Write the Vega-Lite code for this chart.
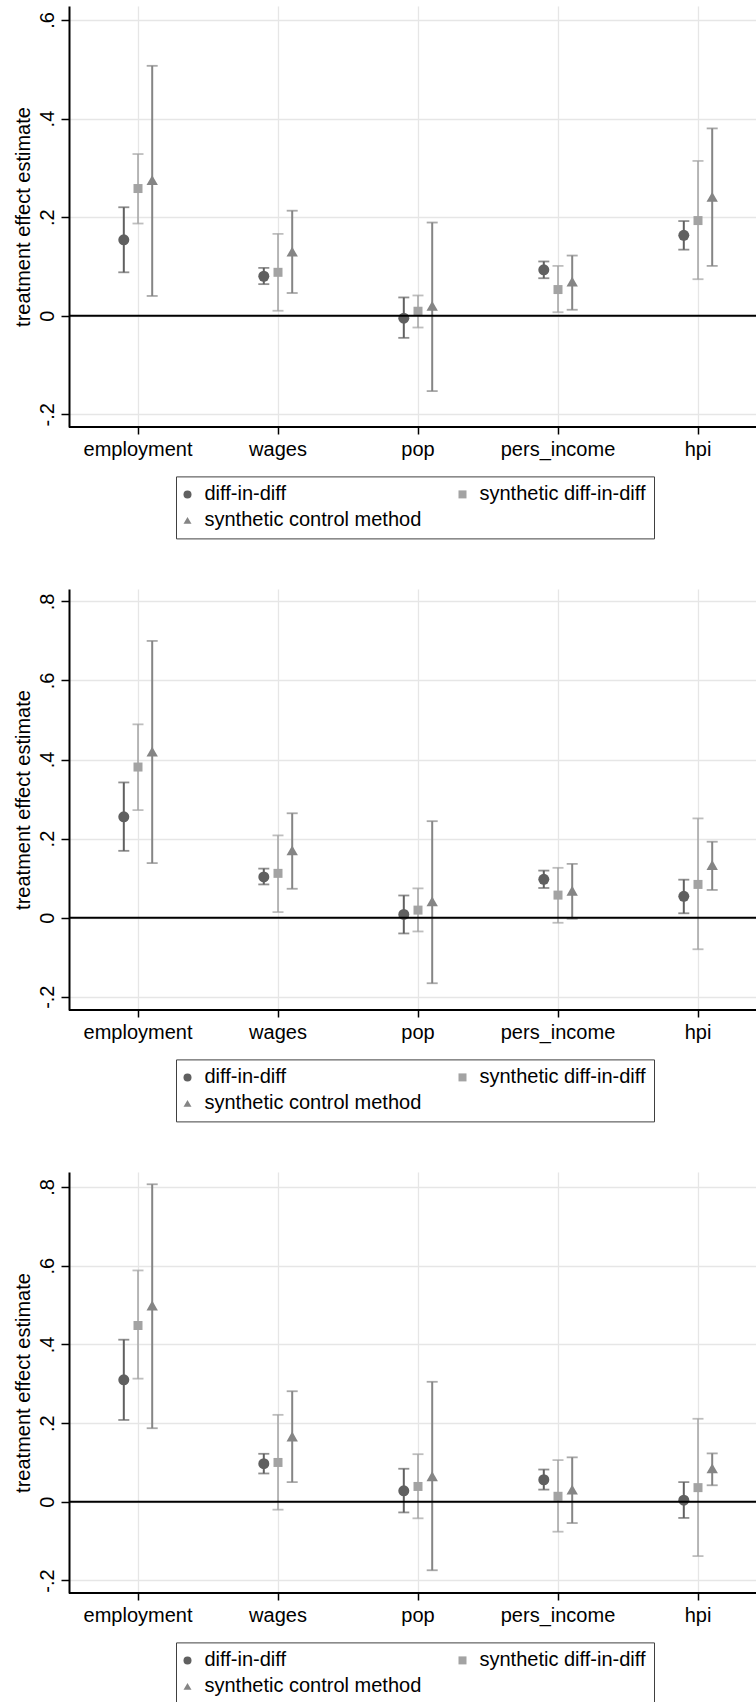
{
  "$schema": "https://vega.github.io/schema/vega-lite/v6.json",
  "padding": {"left": 12, "top": 6, "right": 0, "bottom": 0},
  "spacing": 50,
  "datasets": {
    "p1": [
      {"v": "employment", "m": "diff-in-diff", "est": 0.154, "lo": 0.088, "hi": 0.220},
      {"v": "employment", "m": "synthetic diff-in-diff", "est": 0.258, "lo": 0.187, "hi": 0.328},
      {"v": "employment", "m": "synthetic control method", "est": 0.275, "lo": 0.040, "hi": 0.507},
      {"v": "wages", "m": "diff-in-diff", "est": 0.080, "lo": 0.064, "hi": 0.097},
      {"v": "wages", "m": "synthetic diff-in-diff", "est": 0.088, "lo": 0.010, "hi": 0.166},
      {"v": "wages", "m": "synthetic control method", "est": 0.130, "lo": 0.046, "hi": 0.213},
      {"v": "pop", "m": "diff-in-diff", "est": -0.005, "lo": -0.045, "hi": 0.037},
      {"v": "pop", "m": "synthetic diff-in-diff", "est": 0.009, "lo": -0.024, "hi": 0.041},
      {"v": "pop", "m": "synthetic control method", "est": 0.020, "lo": -0.153, "hi": 0.189},
      {"v": "pers_income", "m": "diff-in-diff", "est": 0.093, "lo": 0.076, "hi": 0.110},
      {"v": "pers_income", "m": "synthetic diff-in-diff", "est": 0.053, "lo": 0.007, "hi": 0.101},
      {"v": "pers_income", "m": "synthetic control method", "est": 0.069, "lo": 0.012, "hi": 0.122},
      {"v": "hpi", "m": "diff-in-diff", "est": 0.163, "lo": 0.134, "hi": 0.192},
      {"v": "hpi", "m": "synthetic diff-in-diff", "est": 0.193, "lo": 0.074, "hi": 0.314},
      {"v": "hpi", "m": "synthetic control method", "est": 0.241, "lo": 0.101, "hi": 0.380}
    ],
    "p2": [
      {"v": "employment", "m": "diff-in-diff", "est": 0.255, "lo": 0.169, "hi": 0.342},
      {"v": "employment", "m": "synthetic diff-in-diff", "est": 0.381, "lo": 0.272, "hi": 0.489},
      {"v": "employment", "m": "synthetic control method", "est": 0.420, "lo": 0.138, "hi": 0.700},
      {"v": "wages", "m": "diff-in-diff", "est": 0.103, "lo": 0.084, "hi": 0.124},
      {"v": "wages", "m": "synthetic diff-in-diff", "est": 0.112, "lo": 0.014, "hi": 0.208},
      {"v": "wages", "m": "synthetic control method", "est": 0.170, "lo": 0.073, "hi": 0.264},
      {"v": "pop", "m": "diff-in-diff", "est": 0.008, "lo": -0.040, "hi": 0.056},
      {"v": "pop", "m": "synthetic diff-in-diff", "est": 0.019, "lo": -0.035, "hi": 0.074},
      {"v": "pop", "m": "synthetic control method", "est": 0.041, "lo": -0.166, "hi": 0.244},
      {"v": "pers_income", "m": "diff-in-diff", "est": 0.097, "lo": 0.075, "hi": 0.119},
      {"v": "pers_income", "m": "synthetic diff-in-diff", "est": 0.057, "lo": -0.013, "hi": 0.126},
      {"v": "pers_income", "m": "synthetic control method", "est": 0.068, "lo": -0.003, "hi": 0.136},
      {"v": "hpi", "m": "diff-in-diff", "est": 0.054, "lo": 0.011, "hi": 0.096},
      {"v": "hpi", "m": "synthetic diff-in-diff", "est": 0.084, "lo": -0.080, "hi": 0.251},
      {"v": "hpi", "m": "synthetic control method", "est": 0.133, "lo": 0.070, "hi": 0.192}
    ],
    "p3": [
      {"v": "employment", "m": "diff-in-diff", "est": 0.310, "lo": 0.208, "hi": 0.412},
      {"v": "employment", "m": "synthetic diff-in-diff", "est": 0.448, "lo": 0.313, "hi": 0.588},
      {"v": "employment", "m": "synthetic control method", "est": 0.499, "lo": 0.187, "hi": 0.807},
      {"v": "wages", "m": "diff-in-diff", "est": 0.097, "lo": 0.072, "hi": 0.122},
      {"v": "wages", "m": "synthetic diff-in-diff", "est": 0.100, "lo": -0.020, "hi": 0.221},
      {"v": "wages", "m": "synthetic control method", "est": 0.166, "lo": 0.050, "hi": 0.281},
      {"v": "pop", "m": "diff-in-diff", "est": 0.028, "lo": -0.027, "hi": 0.084},
      {"v": "pop", "m": "synthetic diff-in-diff", "est": 0.039, "lo": -0.042, "hi": 0.121},
      {"v": "pop", "m": "synthetic control method", "est": 0.065, "lo": -0.174, "hi": 0.305},
      {"v": "pers_income", "m": "diff-in-diff", "est": 0.056, "lo": 0.031, "hi": 0.082},
      {"v": "pers_income", "m": "synthetic diff-in-diff", "est": 0.014, "lo": -0.076, "hi": 0.106},
      {"v": "pers_income", "m": "synthetic control method", "est": 0.031, "lo": -0.054, "hi": 0.113},
      {"v": "hpi", "m": "diff-in-diff", "est": 0.004, "lo": -0.041, "hi": 0.050},
      {"v": "hpi", "m": "synthetic diff-in-diff", "est": 0.036, "lo": -0.138, "hi": 0.211},
      {"v": "hpi", "m": "synthetic control method", "est": 0.085, "lo": 0.042, "hi": 0.123}
    ]
  },
  "resolve": {
    "scale": {"xOffset": "independent", "color": "independent", "shape": "independent", "size": "independent", "strokeWidth": "independent", "stroke": "independent", "fill": "independent"},
    "legend": {"color": "independent", "shape": "independent"}
  },
  "vconcat": [
    {
      "data": {"name": "p1"},
      "width": 688, "height": 421,
      "layer": [
        {"mark": {"type": "rule"},
         "encoding": {
           "x": {"field": "v", "type": "nominal", "title": null, "sort": ["employment", "wages", "pop", "pers_income", "hpi"], "scale": {"domain": ["employment", "wages", "pop", "pers_income", "hpi"], "range": [-1, 699], "paddingInner": 0, "paddingOuter": 0}, "axis": {"labelAngle": 0, "domain": false, "tickSize": 7, "labelPadding": 5, "bandPosition": 0.5, "grid": true}},
           "xOffset": {"field": "m", "type": "nominal", "sort": ["diff-in-diff", "synthetic diff-in-diff", "synthetic control method"], "scale": {"range": [48.7, 91.3], "paddingInner": 0, "paddingOuter": 0}},
           "y": {"field": "lo", "type": "quantitative", "title": "treatment effect estimate", "scale": {"domain": [-0.2259, 0.6284], "nice": false, "zero": false}, "axis": {"values": [-0.2, 0, 0.2, 0.4, 0.6], "labelExpr": "datum.value == 0 ? '0' : (datum.value < 0 ? '-' : '') + substring(format(abs(datum.value), '.1f'), 1)", "labelAngle": -90, "labelAlign": "center", "labelBaseline": "alphabetic", "labelPadding": 8, "tickSize": 8, "grid": true, "titlePadding": 4}},
           "y2": {"field": "hi"},
           "stroke": {"field": "m", "type": "nominal", "legend": null, "sort": ["diff-in-diff", "synthetic diff-in-diff", "synthetic control method"], "scale": {"range": ["#606060", "#a3a3a3", "#858585"]}},
           "strokeWidth": {"field": "m", "type": "nominal", "legend": null, "sort": ["diff-in-diff", "synthetic diff-in-diff", "synthetic control method"], "scale": {"type": "ordinal", "range": [2, 1.5, 2]}}
         }},
        {"mark": {"type": "tick", "size": 11, "thickness": 1.8},
         "encoding": {
           "x": {"field": "v", "type": "nominal", "sort": ["employment", "wages", "pop", "pers_income", "hpi"], "title": null},
           "xOffset": {"field": "m", "type": "nominal", "sort": ["diff-in-diff", "synthetic diff-in-diff", "synthetic control method"]},
           "y": {"field": "lo", "type": "quantitative", "title": "treatment effect estimate"},
           "fill": {"field": "m", "type": "nominal", "legend": null, "sort": ["diff-in-diff", "synthetic diff-in-diff", "synthetic control method"], "scale": {"range": ["#606060", "#a3a3a3", "#858585"]}}
         }},
        {"mark": {"type": "tick", "size": 11, "thickness": 1.8},
         "encoding": {
           "x": {"field": "v", "type": "nominal", "sort": ["employment", "wages", "pop", "pers_income", "hpi"], "title": null},
           "xOffset": {"field": "m", "type": "nominal", "sort": ["diff-in-diff", "synthetic diff-in-diff", "synthetic control method"]},
           "y": {"field": "hi", "type": "quantitative", "title": "treatment effect estimate"},
           "fill": {"field": "m", "type": "nominal", "legend": null, "sort": ["diff-in-diff", "synthetic diff-in-diff", "synthetic control method"]}
         }},
        {"mark": {"type": "point", "filled": true, "opacity": 1, "strokeWidth": 0},
         "encoding": {
           "x": {"field": "v", "type": "nominal", "sort": ["employment", "wages", "pop", "pers_income", "hpi"], "title": null},
           "xOffset": {"field": "m", "type": "nominal", "sort": ["diff-in-diff", "synthetic diff-in-diff", "synthetic control method"]},
           "y": {"field": "est", "type": "quantitative", "title": "treatment effect estimate"},
           "color": {"field": "m", "type": "nominal", "title": null, "scale": {"domain": ["diff-in-diff", "synthetic diff-in-diff", "synthetic control method"], "range": ["#606060", "#a3a3a3", "#858585"]}, "legend": {"orient": "none", "legendX": 107, "legendY": 470.4, "direction": "horizontal", "columns": 2}},
           "shape": {"field": "m", "type": "nominal", "title": null, "scale": {"domain": ["diff-in-diff", "synthetic diff-in-diff", "synthetic control method"], "range": ["circle", "square", "triangle-up"]}, "legend": {"orient": "none", "legendX": 107, "legendY": 470.4, "direction": "horizontal", "columns": 2}},
           "size": {"field": "m", "type": "nominal", "legend": null, "sort": ["diff-in-diff", "synthetic diff-in-diff", "synthetic control method"], "scale": {"type": "ordinal", "range": [121, 81, 130]}}
         }},
        {"data": {"values": [{"z": 0, "b": -0.2259}]},
         "mark": {"type": "rule", "color": "black", "strokeWidth": 2},
         "encoding": {"y": {"field": "z", "type": "quantitative", "title": "treatment effect estimate"}}},
        {"data": {"values": [{"z": 0, "b": -0.2259}]},
         "mark": {"type": "rule", "color": "black", "strokeWidth": 2},
         "encoding": {"y": {"field": "b", "type": "quantitative", "title": "treatment effect estimate"}}}
      ]
    },
    {
      "data": {"name": "p2"},
      "width": 688, "height": 421,
      "layer": [
        {"mark": {"type": "rule"},
         "encoding": {
           "x": {"field": "v", "type": "nominal", "title": null, "sort": ["employment", "wages", "pop", "pers_income", "hpi"], "scale": {"domain": ["employment", "wages", "pop", "pers_income", "hpi"], "range": [-1, 699], "paddingInner": 0, "paddingOuter": 0}, "axis": {"labelAngle": 0, "domain": false, "tickSize": 7, "labelPadding": 5, "bandPosition": 0.5, "grid": true}},
           "xOffset": {"field": "m", "type": "nominal", "sort": ["diff-in-diff", "synthetic diff-in-diff", "synthetic control method"], "scale": {"range": [48.7, 91.3], "paddingInner": 0, "paddingOuter": 0}},
           "y": {"field": "lo", "type": "quantitative", "title": "treatment effect estimate", "scale": {"domain": [-0.2337, 0.8314], "nice": false, "zero": false}, "axis": {"values": [-0.2, 0, 0.2, 0.4, 0.6, 0.8], "labelExpr": "datum.value == 0 ? '0' : (datum.value < 0 ? '-' : '') + substring(format(abs(datum.value), '.1f'), 1)", "labelAngle": -90, "labelAlign": "center", "labelBaseline": "alphabetic", "labelPadding": 8, "tickSize": 8, "grid": true, "titlePadding": 4}},
           "y2": {"field": "hi"},
           "stroke": {"field": "m", "type": "nominal", "legend": null, "sort": ["diff-in-diff", "synthetic diff-in-diff", "synthetic control method"], "scale": {"range": ["#606060", "#a3a3a3", "#858585"]}},
           "strokeWidth": {"field": "m", "type": "nominal", "legend": null, "sort": ["diff-in-diff", "synthetic diff-in-diff", "synthetic control method"], "scale": {"type": "ordinal", "range": [2, 1.5, 2]}}
         }},
        {"mark": {"type": "tick", "size": 11, "thickness": 1.8},
         "encoding": {
           "x": {"field": "v", "type": "nominal", "sort": ["employment", "wages", "pop", "pers_income", "hpi"], "title": null},
           "xOffset": {"field": "m", "type": "nominal", "sort": ["diff-in-diff", "synthetic diff-in-diff", "synthetic control method"]},
           "y": {"field": "lo", "type": "quantitative", "title": "treatment effect estimate"},
           "fill": {"field": "m", "type": "nominal", "legend": null, "sort": ["diff-in-diff", "synthetic diff-in-diff", "synthetic control method"], "scale": {"range": ["#606060", "#a3a3a3", "#858585"]}}
         }},
        {"mark": {"type": "tick", "size": 11, "thickness": 1.8},
         "encoding": {
           "x": {"field": "v", "type": "nominal", "sort": ["employment", "wages", "pop", "pers_income", "hpi"], "title": null},
           "xOffset": {"field": "m", "type": "nominal", "sort": ["diff-in-diff", "synthetic diff-in-diff", "synthetic control method"]},
           "y": {"field": "hi", "type": "quantitative", "title": "treatment effect estimate"},
           "fill": {"field": "m", "type": "nominal", "legend": null, "sort": ["diff-in-diff", "synthetic diff-in-diff", "synthetic control method"]}
         }},
        {"mark": {"type": "point", "filled": true, "opacity": 1, "strokeWidth": 0},
         "encoding": {
           "x": {"field": "v", "type": "nominal", "sort": ["employment", "wages", "pop", "pers_income", "hpi"], "title": null},
           "xOffset": {"field": "m", "type": "nominal", "sort": ["diff-in-diff", "synthetic diff-in-diff", "synthetic control method"]},
           "y": {"field": "est", "type": "quantitative", "title": "treatment effect estimate"},
           "color": {"field": "m", "type": "nominal", "title": null, "scale": {"domain": ["diff-in-diff", "synthetic diff-in-diff", "synthetic control method"], "range": ["#606060", "#a3a3a3", "#858585"]}, "legend": {"orient": "none", "legendX": 107, "legendY": 470.4, "direction": "horizontal", "columns": 2}},
           "shape": {"field": "m", "type": "nominal", "title": null, "scale": {"domain": ["diff-in-diff", "synthetic diff-in-diff", "synthetic control method"], "range": ["circle", "square", "triangle-up"]}, "legend": {"orient": "none", "legendX": 107, "legendY": 470.4, "direction": "horizontal", "columns": 2}},
           "size": {"field": "m", "type": "nominal", "legend": null, "sort": ["diff-in-diff", "synthetic diff-in-diff", "synthetic control method"], "scale": {"type": "ordinal", "range": [121, 81, 130]}}
         }},
        {"data": {"values": [{"z": 0, "b": -0.2337}]},
         "mark": {"type": "rule", "color": "black", "strokeWidth": 2},
         "encoding": {"y": {"field": "z", "type": "quantitative", "title": "treatment effect estimate"}}},
        {"data": {"values": [{"z": 0, "b": -0.2337}]},
         "mark": {"type": "rule", "color": "black", "strokeWidth": 2},
         "encoding": {"y": {"field": "b", "type": "quantitative", "title": "treatment effect estimate"}}}
      ]
    },
    {
      "data": {"name": "p3"},
      "width": 688, "height": 421,
      "layer": [
        {"mark": {"type": "rule"},
         "encoding": {
           "x": {"field": "v", "type": "nominal", "title": null, "sort": ["employment", "wages", "pop", "pers_income", "hpi"], "scale": {"domain": ["employment", "wages", "pop", "pers_income", "hpi"], "range": [-1, 699], "paddingInner": 0, "paddingOuter": 0}, "axis": {"labelAngle": 0, "domain": false, "tickSize": 7, "labelPadding": 5, "bandPosition": 0.5, "grid": true}},
           "xOffset": {"field": "m", "type": "nominal", "sort": ["diff-in-diff", "synthetic diff-in-diff", "synthetic control method"], "scale": {"range": [48.7, 91.3], "paddingInner": 0, "paddingOuter": 0}},
           "y": {"field": "lo", "type": "quantitative", "title": "treatment effect estimate", "scale": {"domain": [-0.2318, 0.8382], "nice": false, "zero": false}, "axis": {"values": [-0.2, 0, 0.2, 0.4, 0.6, 0.8], "labelExpr": "datum.value == 0 ? '0' : (datum.value < 0 ? '-' : '') + substring(format(abs(datum.value), '.1f'), 1)", "labelAngle": -90, "labelAlign": "center", "labelBaseline": "alphabetic", "labelPadding": 8, "tickSize": 8, "grid": true, "titlePadding": 4}},
           "y2": {"field": "hi"},
           "stroke": {"field": "m", "type": "nominal", "legend": null, "sort": ["diff-in-diff", "synthetic diff-in-diff", "synthetic control method"], "scale": {"range": ["#606060", "#a3a3a3", "#858585"]}},
           "strokeWidth": {"field": "m", "type": "nominal", "legend": null, "sort": ["diff-in-diff", "synthetic diff-in-diff", "synthetic control method"], "scale": {"type": "ordinal", "range": [2, 1.5, 2]}}
         }},
        {"mark": {"type": "tick", "size": 11, "thickness": 1.8},
         "encoding": {
           "x": {"field": "v", "type": "nominal", "sort": ["employment", "wages", "pop", "pers_income", "hpi"], "title": null},
           "xOffset": {"field": "m", "type": "nominal", "sort": ["diff-in-diff", "synthetic diff-in-diff", "synthetic control method"]},
           "y": {"field": "lo", "type": "quantitative", "title": "treatment effect estimate"},
           "fill": {"field": "m", "type": "nominal", "legend": null, "sort": ["diff-in-diff", "synthetic diff-in-diff", "synthetic control method"], "scale": {"range": ["#606060", "#a3a3a3", "#858585"]}}
         }},
        {"mark": {"type": "tick", "size": 11, "thickness": 1.8},
         "encoding": {
           "x": {"field": "v", "type": "nominal", "sort": ["employment", "wages", "pop", "pers_income", "hpi"], "title": null},
           "xOffset": {"field": "m", "type": "nominal", "sort": ["diff-in-diff", "synthetic diff-in-diff", "synthetic control method"]},
           "y": {"field": "hi", "type": "quantitative", "title": "treatment effect estimate"},
           "fill": {"field": "m", "type": "nominal", "legend": null, "sort": ["diff-in-diff", "synthetic diff-in-diff", "synthetic control method"]}
         }},
        {"mark": {"type": "point", "filled": true, "opacity": 1, "strokeWidth": 0},
         "encoding": {
           "x": {"field": "v", "type": "nominal", "sort": ["employment", "wages", "pop", "pers_income", "hpi"], "title": null},
           "xOffset": {"field": "m", "type": "nominal", "sort": ["diff-in-diff", "synthetic diff-in-diff", "synthetic control method"]},
           "y": {"field": "est", "type": "quantitative", "title": "treatment effect estimate"},
           "color": {"field": "m", "type": "nominal", "title": null, "scale": {"domain": ["diff-in-diff", "synthetic diff-in-diff", "synthetic control method"], "range": ["#606060", "#a3a3a3", "#858585"]}, "legend": {"orient": "none", "legendX": 107, "legendY": 470.4, "direction": "horizontal", "columns": 2}},
           "shape": {"field": "m", "type": "nominal", "title": null, "scale": {"domain": ["diff-in-diff", "synthetic diff-in-diff", "synthetic control method"], "range": ["circle", "square", "triangle-up"]}, "legend": {"orient": "none", "legendX": 107, "legendY": 470.4, "direction": "horizontal", "columns": 2}},
           "size": {"field": "m", "type": "nominal", "legend": null, "sort": ["diff-in-diff", "synthetic diff-in-diff", "synthetic control method"], "scale": {"type": "ordinal", "range": [121, 81, 130]}}
         }},
        {"data": {"values": [{"z": 0, "b": -0.2318}]},
         "mark": {"type": "rule", "color": "black", "strokeWidth": 2},
         "encoding": {"y": {"field": "z", "type": "quantitative", "title": "treatment effect estimate"}}},
        {"data": {"values": [{"z": 0, "b": -0.2318}]},
         "mark": {"type": "rule", "color": "black", "strokeWidth": 2},
         "encoding": {"y": {"field": "b", "type": "quantitative", "title": "treatment effect estimate"}}}
      ]
    }
  ],
  "config": {
    "font": "Liberation Sans",
    "view": {"stroke": null},
    "axis": {"labelFont": "Liberation Sans", "titleFont": "Liberation Sans", "labelFontSize": 20, "titleFontSize": 20, "labelColor": "#000000", "titleColor": "#000000", "titleFontWeight": "normal", "domainColor": "#000000", "domainWidth": 2, "tickColor": "#000000", "tickWidth": 1.5, "gridColor": "#e6e6e6", "gridWidth": 1.3},
    "legend": {"labelFont": "Liberation Sans", "labelFontSize": 20, "labelColor": "#000000", "labelLimit": 400, "labelOffset": 7, "symbolOffset": -6.5, "symbolSize": 64, "symbolStrokeWidth": 0, "symbolOpacity": 1, "columns": 2, "direction": "horizontal", "columnPadding": 36, "rowPadding": 6, "padding": 8, "strokeColor": "#404040", "strokeWidth": 1, "fillColor": "#ffffff", "cornerRadius": 0}
  }
}
